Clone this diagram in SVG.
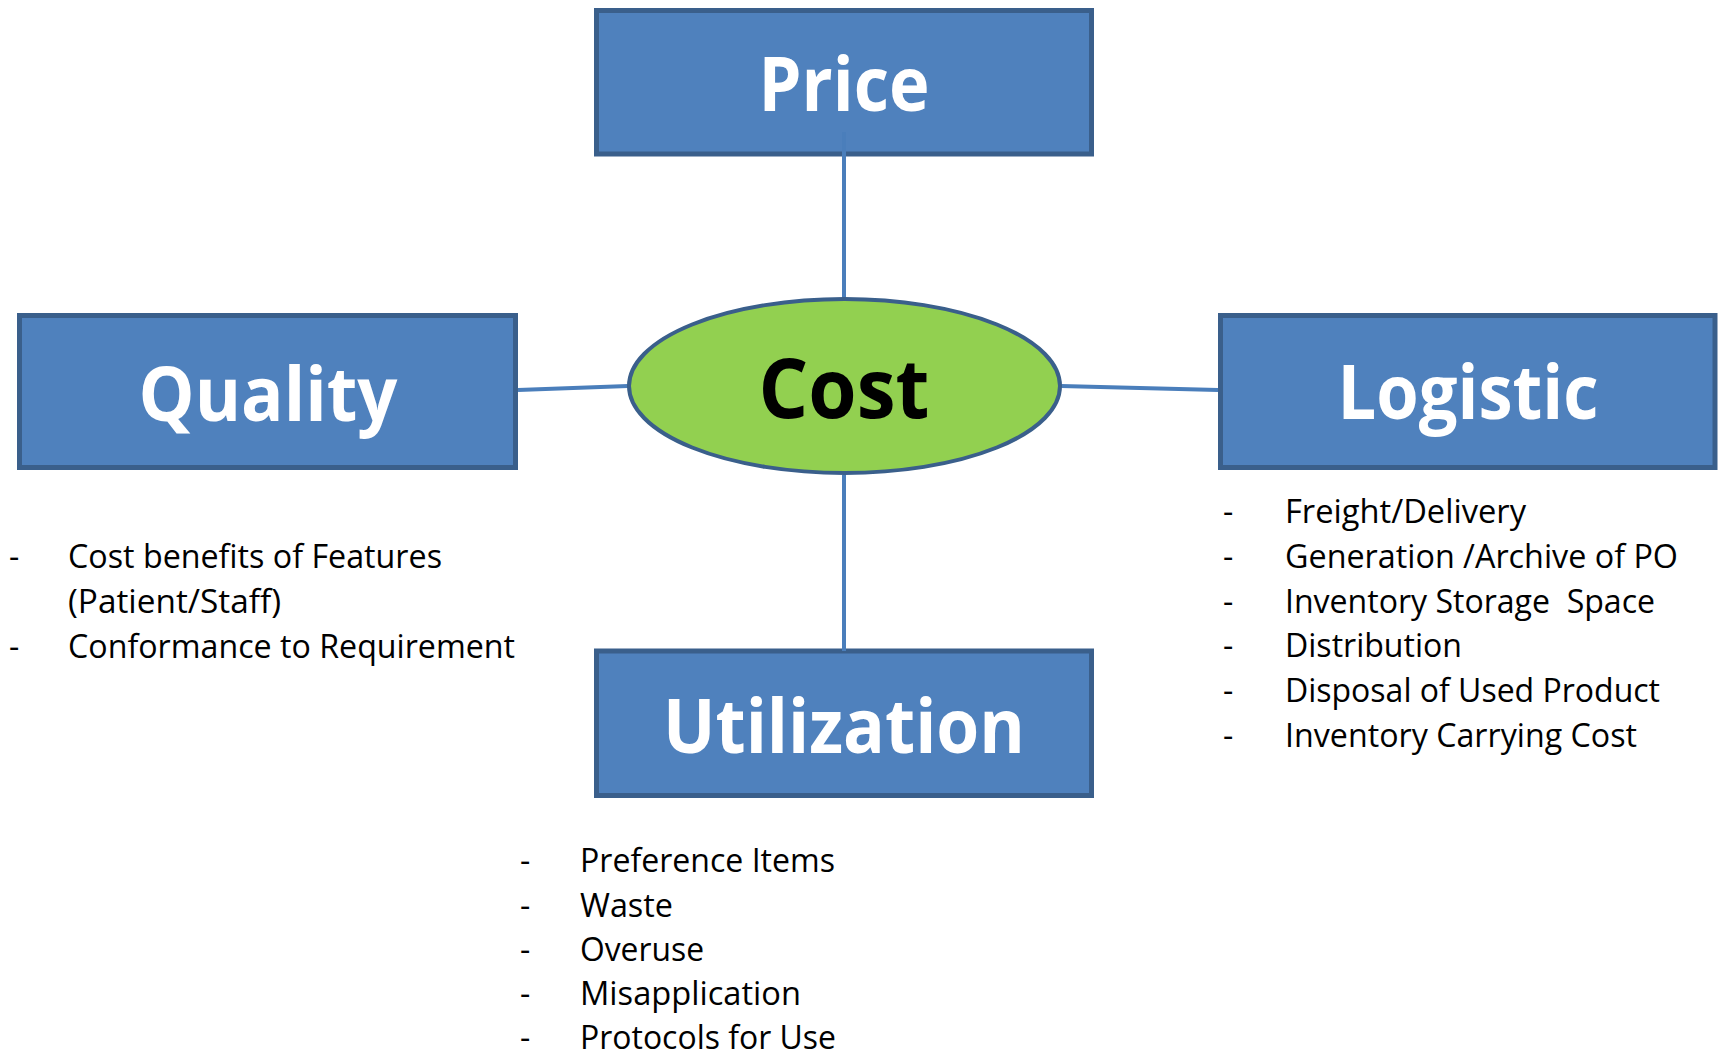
<svg xmlns="http://www.w3.org/2000/svg" width="1719" height="1053" viewBox="0 0 1719 1053">
<style>
.box{fill:#4F81BD;stroke:#3A5F8B;stroke-width:5}
.oval{fill:#92D050;stroke:#3A5F8B;stroke-width:4}
.lbl{font-family:"Open Sans","Noto Sans",sans-serif;font-weight:700;font-size:75px;fill:#FFFFFF;text-anchor:middle}
.cost{font-family:"Open Sans","Noto Sans",sans-serif;font-weight:700;font-size:83px;fill:#000000;text-anchor:middle}
.item{font-family:"Open Sans","Noto Sans",sans-serif;font-size:32px;fill:#000000}
.conn{stroke:#4A7EBB;stroke-width:4;fill:none}
</style>
<rect width="1719" height="1053" fill="#FFFFFF"/>
<g id="price">
<rect class="box" x="596.5" y="10.5" width="495" height="143.5"/>
<text class="lbl" x="844" y="111" textLength="171" lengthAdjust="spacingAndGlyphs">Price</text>
</g>
<g id="quality">
<rect class="box" x="19.5" y="315.5" width="496" height="152"/>
<text class="lbl" x="268" y="421" textLength="259" lengthAdjust="spacingAndGlyphs">Quality</text>
</g>
<g id="logistic">
<rect class="box" x="1220.5" y="315.5" width="494.5" height="152"/>
<text class="lbl" x="1468" y="419" textLength="261" lengthAdjust="spacingAndGlyphs">Logistic</text>
</g>
<g id="utilization">
<rect class="box" x="596.5" y="651" width="495" height="144.5"/>
<text class="lbl" x="844" y="753" textLength="362" lengthAdjust="spacingAndGlyphs">Utilization</text>
</g>
<g id="connectors">
<line class="conn" x1="844" y1="132" x2="844" y2="298"/>
<line class="conn" x1="844" y1="475" x2="844" y2="651"/>
<line class="conn" x1="518" y1="390" x2="628" y2="386"/>
<line class="conn" x1="1061" y1="386" x2="1218" y2="390"/>
</g>
<g id="cost">
<ellipse class="oval" cx="844.5" cy="386" rx="215.5" ry="87"/>
<text class="cost" x="844" y="418" textLength="171" lengthAdjust="spacingAndGlyphs">Cost</text>
</g>
<g id="quality-items">
<text class="item" x="9" y="568">-</text>
<text class="item" x="68" y="568" textLength="374" lengthAdjust="spacingAndGlyphs">Cost benefits of Features</text>
<text class="item" x="68" y="613" textLength="213" lengthAdjust="spacingAndGlyphs">(Patient/Staff)</text>
<text class="item" x="9" y="658">-</text>
<text class="item" x="68" y="658" textLength="447" lengthAdjust="spacingAndGlyphs">Conformance to Requirement</text>
</g>
<g id="logistic-items">
<text class="item" x="1223" y="523">-</text>
<text class="item" x="1285" y="523" textLength="241" lengthAdjust="spacingAndGlyphs">Freight/Delivery</text>
<text class="item" x="1223" y="568">-</text>
<text class="item" x="1285" y="568" textLength="393" lengthAdjust="spacingAndGlyphs">Generation /Archive of PO</text>
<text class="item" x="1223" y="613">-</text>
<text class="item" x="1285" y="613" textLength="370" lengthAdjust="spacingAndGlyphs" xml:space="preserve">Inventory Storage  Space</text>
<text class="item" x="1223" y="657">-</text>
<text class="item" x="1285" y="657" textLength="177" lengthAdjust="spacingAndGlyphs">Distribution</text>
<text class="item" x="1223" y="702">-</text>
<text class="item" x="1285" y="702" textLength="375" lengthAdjust="spacingAndGlyphs">Disposal of Used Product</text>
<text class="item" x="1223" y="747">-</text>
<text class="item" x="1285" y="747" textLength="352" lengthAdjust="spacingAndGlyphs">Inventory Carrying Cost</text>
</g>
<g id="utilization-items">
<text class="item" x="520" y="872">-</text>
<text class="item" x="580" y="872" textLength="255" lengthAdjust="spacingAndGlyphs">Preference Items</text>
<text class="item" x="520" y="917">-</text>
<text class="item" x="580" y="917" textLength="93" lengthAdjust="spacingAndGlyphs">Waste</text>
<text class="item" x="520" y="961">-</text>
<text class="item" x="580" y="961" textLength="124" lengthAdjust="spacingAndGlyphs">Overuse</text>
<text class="item" x="520" y="1005">-</text>
<text class="item" x="580" y="1005" textLength="221" lengthAdjust="spacingAndGlyphs">Misapplication</text>
<text class="item" x="520" y="1049">-</text>
<text class="item" x="580" y="1049" textLength="256" lengthAdjust="spacingAndGlyphs">Protocols for Use</text>
</g>
</svg>
